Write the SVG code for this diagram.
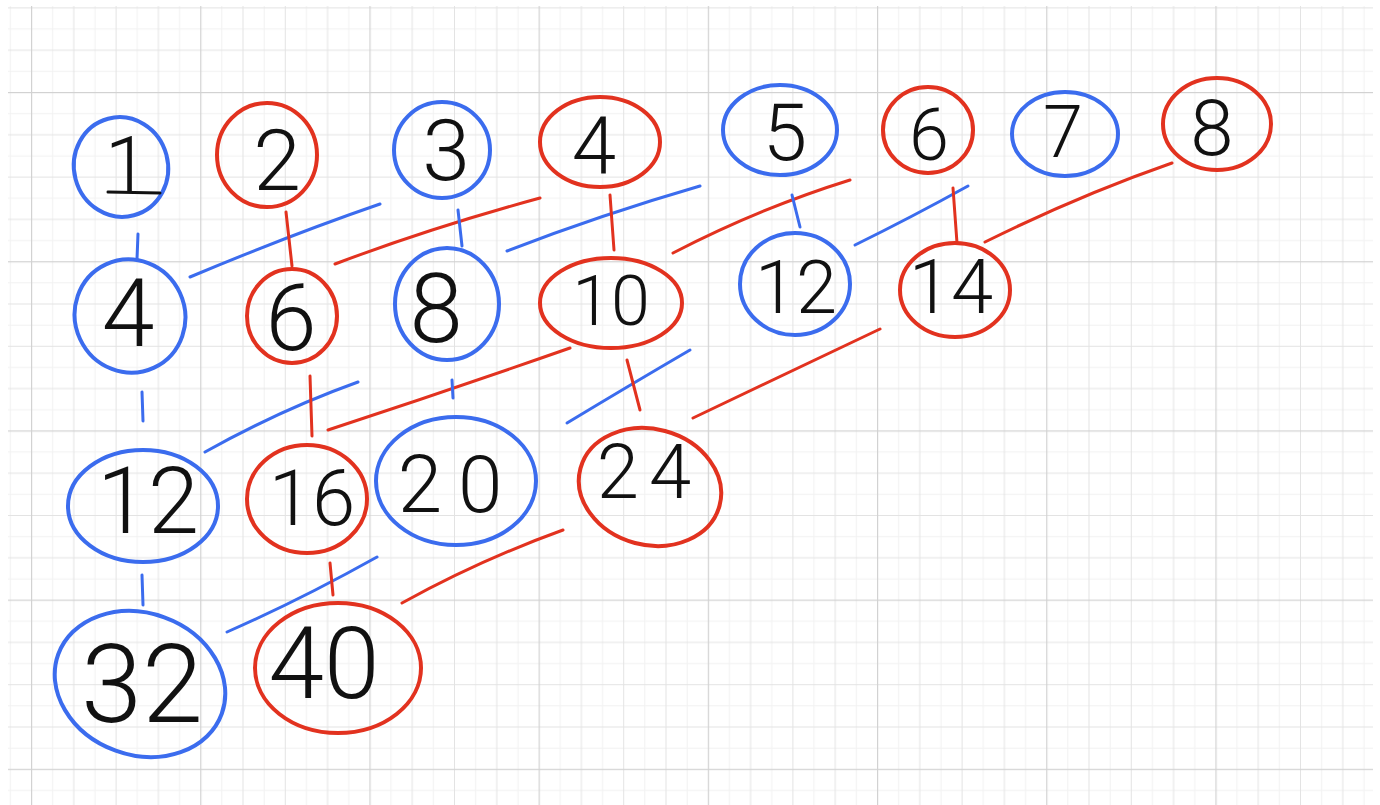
<svg xmlns="http://www.w3.org/2000/svg" width="1380" height="805" viewBox="0 0 1380 805">
<defs>
<pattern id="grid" x="31" y="92" width="169.2" height="169.2" patternUnits="userSpaceOnUse">
<g fill="#f1f1f1">
<rect x="21.15" y="0" width="1" height="169.2"/><rect x="63.45" y="0" width="1" height="169.2"/><rect x="105.75" y="0" width="1" height="169.2"/><rect x="148.05" y="0" width="1" height="169.2"/>
<rect y="21.15" x="0" height="1" width="169.2"/><rect y="63.45" x="0" height="1" width="169.2"/><rect y="105.75" x="0" height="1" width="169.2"/><rect y="148.05" x="0" height="1" width="169.2"/>
</g>
<g fill="#e3e3e3">
<rect x="42.3" y="0" width="1" height="169.2"/><rect x="84.6" y="0" width="1" height="169.2"/><rect x="126.9" y="0" width="1" height="169.2"/>
<rect y="42.3" x="0" height="1" width="169.2"/><rect y="84.6" x="0" height="1" width="169.2"/><rect y="126.9" x="0" height="1" width="169.2"/>
</g>
<g fill="#d2d2d2">
<rect x="0" y="0" width="1.2" height="169.2"/><rect x="0" y="0" width="169.2" height="1.2"/>
</g>
</pattern>
<style>
.b{fill:none;stroke:#3b6cee;stroke-width:4;stroke-linecap:round}
.r{fill:none;stroke:#e2321f;stroke-width:4;stroke-linecap:round}
.cb{fill:none;stroke:#3b6cee;stroke-width:3;stroke-linecap:round}
.cr{fill:none;stroke:#e2321f;stroke-width:3;stroke-linecap:round}
text{font-family:Roboto,"Liberation Sans",sans-serif;font-weight:300;fill:#111;text-anchor:middle}
</style>
</defs>
<rect width="1380" height="805" fill="#fff"/>
<rect x="8" y="6" width="1365" height="799" fill="url(#grid)"/>
<g id="connectors">
<path class="cb" d="M138,234 L137,259"/>
<path class="cb" d="M380,204 Q290,235 190,277"/>
<path class="cr" d="M286,212 L292,266"/>
<path class="cr" d="M540,198 Q430,228 335,264"/>
<path class="cb" d="M458,210 L462,246"/>
<path class="cb" d="M700,186 Q600,215 507,251"/>
<path class="cr" d="M610,195 L614,250"/>
<path class="cr" d="M850,180 Q760,208 673,253"/>
<path class="cb" d="M792,195 L800,227"/>
<path class="cb" d="M968,186 Q910,218 855,245"/>
<path class="cr" d="M953,188 L957,243"/>
<path class="cr" d="M1172,163 Q1080,195 985,242"/>
<path class="cb" d="M142,392 L143,421"/>
<path class="cb" d="M358,382 Q280,410 205,452"/>
<path class="cr" d="M310,376 L312,436"/>
<path class="cr" d="M570,348 Q450,390 328,430"/>
<path class="cb" d="M452,380 L453,398"/>
<path class="cb" d="M690,350 Q630,385 567,423"/>
<path class="cr" d="M627,360 L640,410"/>
<path class="cr" d="M880,329 Q790,372 693,418"/>
<path class="cb" d="M142,575 L143,605"/>
<path class="cb" d="M377,557 Q300,600 227,632"/>
<path class="cr" d="M330,563 L333,595"/>
<path class="cr" d="M563,530 Q480,560 402,603"/>
</g>
<g id="n1"><ellipse class="b" cx="121" cy="167" rx="47" ry="50" transform="rotate(-15 121 167)"/><text x="127" y="193" font-size="80">1</text><path d="M108,192 L160,193" stroke="#111" stroke-width="3" stroke-linecap="round"/></g>
<g id="n2"><ellipse class="r" cx="267" cy="155" rx="50" ry="52"/><text x="277" y="190" font-size="86">2</text></g>
<g id="n3"><ellipse class="b" cx="442" cy="150" rx="48" ry="48"/><text x="446" y="180" font-size="86">3</text></g>
<g id="n4"><ellipse class="r" cx="600" cy="142" rx="60" ry="45"/><text x="594" y="173" font-size="80">4</text></g>
<g id="n5"><ellipse class="b" cx="780" cy="130" rx="57" ry="45"/><text x="785" y="160" font-size="80">5</text></g>
<g id="n6"><ellipse class="r" cx="928" cy="130" rx="45" ry="43"/><text x="929" y="160" font-size="72">6</text></g>
<g id="n7"><ellipse class="b" cx="1065" cy="134" rx="53" ry="42"/><text x="1063" y="157" font-size="72">7</text></g>
<g id="n8"><ellipse class="r" cx="1217" cy="124" rx="54" ry="46"/><text x="1212" y="155" font-size="78">8</text></g>
<g id="n2_4"><ellipse class="b" cx="130" cy="316" rx="55" ry="57" transform="rotate(-25 130 316)"/><text x="128" y="346" font-size="95">4</text></g>
<g id="n2_6"><ellipse class="r" cx="292" cy="316" rx="45" ry="47"/><text x="291" y="350" font-size="92">6</text></g>
<g id="n2_8"><ellipse class="b" cx="447" cy="304" rx="52" ry="56"/><text x="436" y="342" font-size="96">8</text></g>
<g id="n2_10"><ellipse class="r" cx="611" cy="303" rx="71" ry="45"/><text x="611" y="325" font-size="70">10</text></g>
<g id="n2_12"><ellipse class="b" cx="795" cy="284" rx="55" ry="51"/><text x="796" y="313" font-size="74">12</text></g>
<g id="n2_14"><ellipse class="r" cx="955" cy="290" rx="55" ry="47"/><text x="951" y="313" font-size="76">14</text></g>
<g id="n3_12"><ellipse class="b" cx="143" cy="506" rx="75" ry="56"/><text x="148" y="533" font-size="92">12</text></g>
<g id="n3_16"><ellipse class="r" cx="307" cy="499" rx="60" ry="54"/><text x="312" y="525" font-size="78">16</text></g>
<g id="n3_20"><ellipse class="b" cx="456" cy="481" rx="80" ry="64"/><text x="458" y="512" font-size="80" letter-spacing="16">20</text></g>
<g id="n3_24"><ellipse class="r" cx="650" cy="487" rx="72" ry="58" transform="rotate(15 650 487)"/><text x="649" y="498" font-size="76" letter-spacing="10">24</text></g>
<g id="n4_32"><ellipse class="b" cx="140" cy="684" rx="87" ry="71" transform="rotate(20 140 684)"/><text x="142" y="722" font-size="110">32</text></g>
<g id="n4_40"><ellipse class="r" cx="338" cy="668" rx="83" ry="65"/><text x="324" y="698" font-size="100">40</text></g>
</svg>
